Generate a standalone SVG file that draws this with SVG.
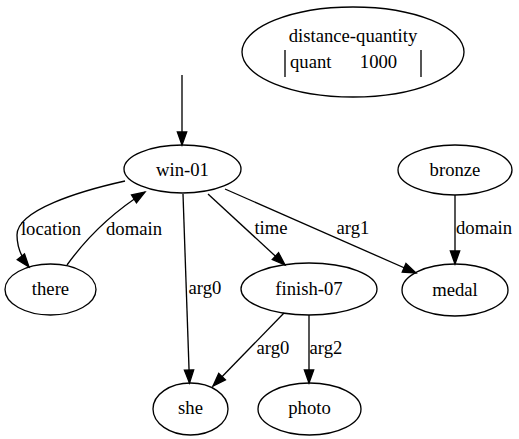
<svg xmlns="http://www.w3.org/2000/svg" width="519" height="439" viewBox="0 0 519 439">
<style>
text{font-family:'Liberation Serif', 'Times New Roman', Times, serif;font-size:18.67px;fill:#000}
.n ellipse{fill:none;stroke:#000;stroke-width:1.33}
.n text{text-anchor:middle}
.e path,.e line{fill:none;stroke:#000;stroke-width:1.33}
.e text{text-anchor:middle}
</style>
<defs>
<marker id="ah" markerUnits="userSpaceOnUse" markerWidth="14" markerHeight="10" refX="13" refY="4.67" orient="auto" overflow="visible">
<path d="M0,0 L13,4.67 L0,9.33 z" fill="#000" stroke="#000" stroke-width="1.33"/>
</marker>
</defs>
<g font-family="Liberation Serif, serif">
<g id="dq" class="n">
<ellipse cx="353" cy="52" rx="111" ry="45"/>
<text x="353" y="42">distance-quantity</text>
<line x1="285" y1="50" x2="285" y2="77" stroke="#000" stroke-width="1.33"/>
<text x="290" y="68" style="text-anchor:start">quant</text>
<text x="378.5" y="68">1000</text>
<line x1="421" y1="50" x2="421" y2="77" stroke="#000" stroke-width="1.33"/>
</g>
<g id="win01" class="n"><ellipse cx="182.5" cy="169" rx="58.5" ry="24"/><text x="182.5" y="176">win-01</text></g>
<g id="there" class="n"><ellipse cx="50.5" cy="289.5" rx="45.5" ry="25.5"/><text x="50.5" y="295">there</text></g>
<g id="finish07" class="n"><ellipse cx="309" cy="289" rx="68" ry="26"/><text x="309" y="295">finish-07</text></g>
<g id="medal" class="n"><ellipse cx="455" cy="290" rx="53" ry="26"/><text x="455" y="296">medal</text></g>
<g id="bronze" class="n"><ellipse cx="455" cy="170" rx="57" ry="25"/><text x="455" y="176">bronze</text></g>
<g id="she" class="n"><ellipse cx="190.5" cy="409" rx="37.5" ry="26"/><text x="190.5" y="414">she</text></g>
<g id="photo" class="n"><ellipse cx="309.5" cy="409" rx="51.5" ry="26"/><text x="309.5" y="414">photo</text></g>
<g id="edges" class="e">
<line x1="182" y1="75" x2="182" y2="145" marker-end="url(#ah)"/>
<path d="M125,181 C80,191 17,210 17,235 C17,246 21,257 29,267" marker-end="url(#ah)"/>
<text x="51" y="235">location</text>
<path d="M67,265 C85,240 110,214 145,192" marker-end="url(#ah)"/>
<text x="134" y="235">domain</text>
<line x1="183" y1="194" x2="189.5" y2="383" marker-end="url(#ah)"/>
<text x="205" y="294">arg0</text>
<line x1="208" y1="194" x2="285" y2="265" marker-end="url(#ah)"/>
<text x="271" y="234">time</text>
<line x1="225" y1="189" x2="416" y2="273" marker-end="url(#ah)"/>
<text x="353" y="234">arg1</text>
<line x1="455" y1="195" x2="455" y2="264" marker-end="url(#ah)"/>
<text x="484" y="234">domain</text>
<line x1="284" y1="313" x2="213" y2="386" marker-end="url(#ah)"/>
<text x="273" y="354">arg0</text>
<line x1="309" y1="315" x2="309" y2="383" marker-end="url(#ah)"/>
<text x="326" y="354">arg2</text>
</g>
</g>
</svg>
